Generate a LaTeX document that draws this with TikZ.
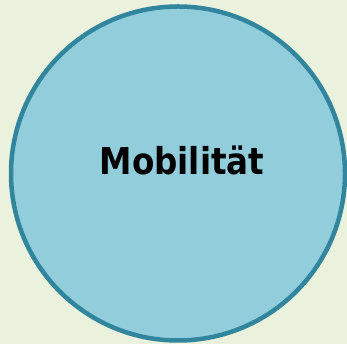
\documentclass[tikz,border=0pt]{standalone}
\usepackage{fontspec}
\setmainfont{DejaVu Sans}
\definecolor{bgc}{HTML}{EAF1DD}
\definecolor{fillc}{HTML}{92CDDC}
\definecolor{linec}{HTML}{31859C}
\begin{document}
\begin{tikzpicture}[x=1pt,y=1pt,
  bubble/.style={circle,draw=linec,line width=4.5pt,fill=fillc,minimum size=334pt,inner sep=0pt},
  lbl/.style={font=\fontsize{37}{40}\selectfont\bfseries,anchor=base,inner sep=0pt}]
\fill[bgc] (0,0) rectangle (347,344);
\useasboundingbox (0,0) rectangle (347,344);
\node[bubble] (c) at (178,170.5) {};
\node[lbl] (t) at (182,169) {\scalebox{0.88}[1]{Mobilität}};
\end{tikzpicture}
\end{document}
